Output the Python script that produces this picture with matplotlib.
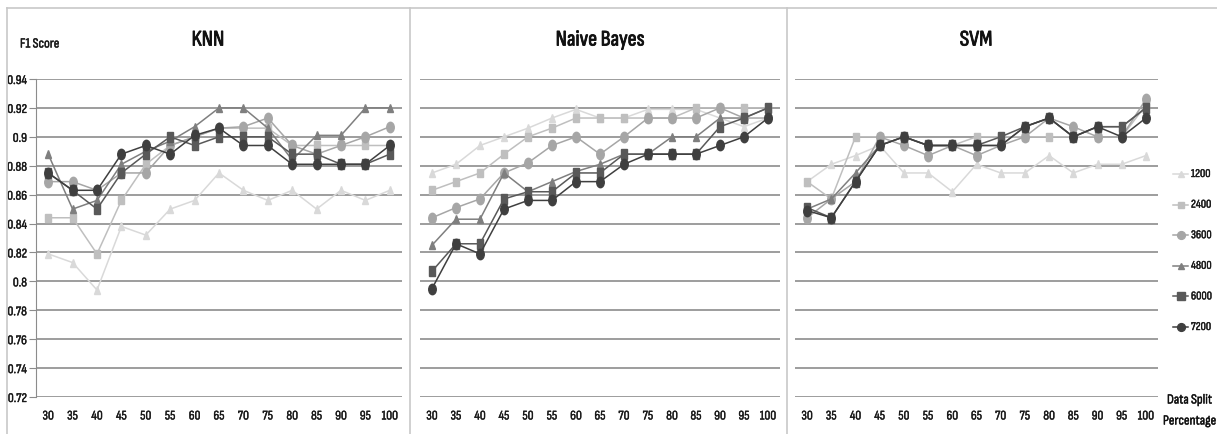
import matplotlib
matplotlib.use("Agg")
import matplotlib.pyplot as plt
import matplotlib.patheffects as pe
from matplotlib.lines import Line2D
from matplotlib.markers import MarkerStyle
from matplotlib.transforms import Affine2D
from matplotlib.ticker import FuncFormatter

# data
splits = [30, 35, 40, 45, 50, 55, 60, 65, 70, 75, 80, 85, 90, 95, 100]
sizes = ['1200', '2400', '3600', '4800', '6000', '7200']
panels = ['KNN', 'Naive Bayes', 'SVM']

knn_1200 = [0.819, 0.813, 0.794, 0.838, 0.832, 0.850, 0.856, 0.875, 0.863, 0.856, 0.863, 0.850, 0.863, 0.856, 0.863]
knn_2400 = [0.844, 0.844, 0.819, 0.856, 0.881, 0.894, 0.900, 0.906, 0.906, 0.906, 0.894, 0.894, 0.894, 0.894, 0.894]
knn_3600 = [0.869, 0.869, 0.863, 0.875, 0.875, 0.894, 0.900, 0.906, 0.907, 0.913, 0.894, 0.888, 0.894, 0.900, 0.907]
knn_4800 = [0.888, 0.850, 0.856, 0.881, 0.890, 0.897, 0.907, 0.920, 0.920, 0.906, 0.884, 0.901, 0.901, 0.920, 0.920]
knn_6000 = [0.875, 0.863, 0.850, 0.875, 0.888, 0.900, 0.894, 0.900, 0.900, 0.900, 0.888, 0.888, 0.881, 0.881, 0.888]
knn_7200 = [0.875, 0.863, 0.863, 0.888, 0.894, 0.888, 0.901, 0.906, 0.894, 0.894, 0.881, 0.881, 0.881, 0.881, 0.894]

nb_1200 = [0.875, 0.881, 0.894, 0.900, 0.906, 0.913, 0.919, 0.913, 0.913, 0.919, 0.919, 0.919, 0.913, 0.907, 0.913]
nb_2400 = [0.863, 0.869, 0.875, 0.888, 0.900, 0.906, 0.913, 0.913, 0.913, 0.913, 0.913, 0.920, 0.920, 0.920, 0.920]
nb_3600 = [0.844, 0.851, 0.857, 0.875, 0.882, 0.894, 0.900, 0.888, 0.900, 0.913, 0.913, 0.913, 0.920, 0.913, 0.913]
nb_4800 = [0.825, 0.843, 0.843, 0.875, 0.862, 0.869, 0.876, 0.881, 0.888, 0.888, 0.900, 0.900, 0.913, 0.913, 0.920]
nb_6000 = [0.807, 0.826, 0.826, 0.857, 0.862, 0.862, 0.875, 0.875, 0.888, 0.888, 0.888, 0.888, 0.907, 0.913, 0.920]
nb_7200 = [0.795, 0.826, 0.819, 0.850, 0.856, 0.856, 0.869, 0.869, 0.881, 0.888, 0.888, 0.888, 0.894, 0.900, 0.913]

svm_1200 = [0.869, 0.881, 0.887, 0.894, 0.875, 0.875, 0.862, 0.881, 0.875, 0.875, 0.887, 0.875, 0.881, 0.881, 0.887]
svm_2400 = [0.869, 0.857, 0.900, 0.900, 0.900, 0.894, 0.894, 0.900, 0.900, 0.900, 0.900, 0.900, 0.900, 0.900, 0.922]
svm_3600 = [0.844, 0.857, 0.869, 0.900, 0.894, 0.887, 0.894, 0.887, 0.894, 0.900, 0.913, 0.907, 0.900, 0.900, 0.926]
svm_4800 = [0.850, 0.857, 0.875, 0.894, 0.900, 0.894, 0.894, 0.894, 0.894, 0.907, 0.913, 0.900, 0.907, 0.907, 0.920]
svm_6000 = [0.851, 0.844, 0.869, 0.894, 0.900, 0.894, 0.894, 0.894, 0.900, 0.907, 0.913, 0.900, 0.907, 0.907, 0.920]
svm_7200 = [0.849, 0.844, 0.869, 0.894, 0.900, 0.894, 0.894, 0.894, 0.894, 0.907, 0.913, 0.900, 0.907, 0.900, 0.913]

panel_data = [
    [knn_1200, knn_2400, knn_3600, knn_4800, knn_6000, knn_7200],
    [nb_1200, nb_2400, nb_3600, nb_4800, nb_6000, nb_7200],
    [svm_1200, svm_2400, svm_3600, svm_4800, svm_6000, svm_7200],
]
yticks = [0.72, 0.74, 0.76, 0.78, 0.80, 0.82, 0.84, 0.86, 0.88, 0.90, 0.92, 0.94]

# style
colors = ['#d9d9d9', '#bfbfbf', '#a6a6a6', '#7f7f7f', '#595959', '#3f3f3f']
squeeze = Affine2D().scale(0.72, 1.0)
markers = [MarkerStyle('^', transform=squeeze), MarkerStyle('s', transform=squeeze),
           MarkerStyle('o', transform=squeeze), MarkerStyle('^', transform=squeeze),
           MarkerStyle('s', transform=squeeze), MarkerStyle('o', transform=squeeze)]
msizes = [6, 6, 7.5, 6, 7, 7.5]
narrow = ['Sofia Sans Condensed', 'Archivo Narrow', 'DejaVu Sans']
grid_c = '#8c8c8c'
frame_c = '#c8c8c8'
txt_c = '#1a1a1a'
thick = [pe.withStroke(linewidth=0.3, foreground=txt_c)]
heavy = [pe.withStroke(linewidth=0.6, foreground='#111111')]

W, H = 1217, 434
fig = plt.figure(figsize=(W / 100, H / 100), dpi=100)

# pixel extents of each plot area (left, right)
extents = [(36, 402), (420, 780), (795, 1158)]
title_x = [208, 600, 976]
top_px, bot_px = 79, 397

handles = []
for i, (name, series) in enumerate(zip(panels, panel_data)):
    l, r = extents[i]
    ax = fig.add_axes([l / W, 1 - bot_px / H, (r - l) / W, (bot_px - top_px) / H])
    for j, vals in enumerate(series):
        ln, = ax.plot(splits, vals, color=colors[j], lw=1.1, marker=markers[j],
                      ms=msizes[j], mfc=colors[j], mec=colors[j], label=sizes[j])
        if i == 0:
            handles.append(ln)
    ax.set_xlim(27.5, 102.5)
    ax.set_ylim(0.72, 0.94)
    ax.set_yticks(yticks)
    ax.yaxis.grid(True, color=grid_c, lw=1.2)
    ax.set_axisbelow(True)
    for s in ax.spines.values():
        s.set_visible(False)
    ax.set_xticks(splits)
    ax.set_xticklabels([str(s) for s in splits], family=narrow, fontsize=9.5,
                       path_effects=thick)
    ax.tick_params(axis='x', length=0, pad=9, colors=txt_c)
    if i == 0:
        ax.spines['left'].set_visible(True)
        ax.spines['left'].set_color(grid_c)
        ax.yaxis.set_major_formatter(FuncFormatter(lambda v, p: '%g' % round(v, 2)))
        ax.tick_params(axis='y', length=5, color=grid_c, pad=1.5, labelsize=9.5,
                       labelcolor=txt_c)
        for t in ax.get_yticklabels():
            t.set_family(narrow)
            t.set_path_effects(thick)
    else:
        ax.tick_params(axis='y', length=0, labelleft=False)
    fig.text(title_x[i] / W, 1 - 40 / H, name, ha='center', va='center',
             fontsize=16, family=narrow, color='#111111', path_effects=heavy)

fig.text(20 / W, 1 - 44 / H, 'F1 Score', ha='left', va='center', fontsize=10,
         family=narrow, color=txt_c, path_effects=thick)

# outer frame and panel dividers
def fline(x0, y0, x1, y1):
    fig.add_artist(Line2D([x0 / W, x1 / W], [1 - y0 / H, 1 - y1 / H],
                          transform=fig.transFigure, color=frame_c, lw=1.2))

fline(7, 8, W, 8)
fline(7, 8, 7, H)
fline(410, 8, 410, H)
fline(787, 8, 787, H)

# legend entries stacked on the right
for k, h in enumerate(handles):
    yc = 1 - (174 + 30.6 * k) / H
    fig.add_artist(Line2D([1173 / W, 1188 / W], [yc, yc], transform=fig.transFigure,
                          color=h.get_color(), lw=1.1))
    fig.add_artist(Line2D([1180.5 / W], [yc], transform=fig.transFigure,
                          marker=h.get_marker(), ms=h.get_markersize() * 0.75,
                          color=h.get_color(), lw=0))
    fig.text(1191 / W, yc, h.get_label(), ha='left', va='center', fontsize=8.5,
             family=narrow, color=txt_c, path_effects=thick)

fig.text(1167 / W, 1 - 400 / H, 'Data Split', ha='left', va='center', fontsize=10,
         family=narrow, color='#111111', path_effects=thick)
fig.text(1163 / W, 1 - 421 / H, 'Percentage', ha='left', va='center', fontsize=10,
         family=narrow, color='#111111', path_effects=thick)

fig.savefig('out.png', dpi=100)
